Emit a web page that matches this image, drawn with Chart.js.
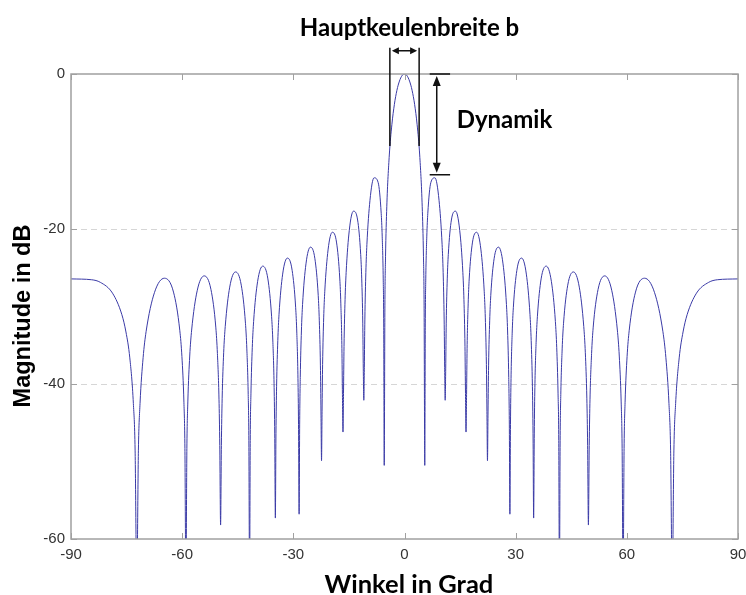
<!DOCTYPE html>
<html>
<head>
<meta charset="utf-8">
<title>Richtcharakteristik</title>
<script src="https://cdn.jsdelivr.net/npm/chart.js@4.4.1/dist/chart.umd.min.js"></script>
<style>
  body { margin: 0; background: #fff; }
  canvas { display: block; }
</style>
</head>
<body>
<canvas id="pattern" width="746" height="595"></canvas>
<script>
'use strict';

// array pattern: angle in degrees and magnitude in dB, one line per lobe
let angles = [
  -90, -84.41, -82.09, -78.80, -76.27, -75.17, -74.13, -73.17, -72.70,
  -72.25, -71.81, -71.37, -70.54, -69.74, -67.49, -64.79, -62.34, -60.63, -60.07, -59.53, -59.26,
  -58.99, -58.73, -58.47, -57.96, -57.44, -55.95, -54.05, -52.23, -50.91, -50.49, -50.06, -49.85,
  -49.63, -49.42, -49.21, -48.80, -48.38, -47.17, -45.59, -44.05, -42.92, -42.55, -42.18, -42.00,
  -41.81, -41.63, -41.44, -41.08, -40.72, -39.65, -38.25, -36.87, -35.86, -35.52, -35.18, -35.02,
  -34.85, -34.69, -34.52, -34.19, -33.86, -32.88, -31.59, -30.32, -29.37, -29.06, -28.75, -28.60,
  -28.44, -28.29, -28.13, -27.82, -27.51, -26.59, -25.38, -24.18, -23.28, -22.99, -22.69, -22.54,
  -22.39, -22.25, -22.10, -21.81, -21.51, -20.63, -19.47, -18.32, -17.46, -17.18, -16.89, -16.75,
  -16.60, -16.46, -16.32, -16.04, -15.75, -14.90, -13.78, -12.65, -11.82, -11.54, -11.26, -11.12,
  -10.98, -10.84, -10.70, -10.43, -10.15, -9.32, -8.21, -7.11, -6.29, -6.02, -5.74, -5.61,
  -5.47, -5.29, -5.12, -4.78, -4.10, -3.41, -2.73, -2.05, -1.36, -0.68, 0, 0.68, 1.36, 2.05, 2.73, 3.41, 4.10, 4.78, 5.12, 5.29,
  5.47, 5.61, 5.74, 6.02, 6.29, 7.11, 8.21, 9.32, 10.15, 10.43, 10.70, 10.84,
  10.98, 11.12, 11.26, 11.54, 11.82, 12.65, 13.78, 14.90, 15.75, 16.04, 16.32, 16.46,
  16.60, 16.75, 16.89, 17.18, 17.46, 18.32, 19.47, 20.63, 21.51, 21.81, 22.10, 22.25,
  22.39, 22.54, 22.69, 22.99, 23.28, 24.18, 25.38, 26.59, 27.51, 27.82, 28.13, 28.29,
  28.44, 28.60, 28.75, 29.06, 29.37, 30.32, 31.59, 32.88, 33.86, 34.19, 34.52, 34.69,
  34.85, 35.02, 35.18, 35.52, 35.86, 36.87, 38.25, 39.65, 40.72, 41.08, 41.44, 41.63,
  41.81, 42.00, 42.18, 42.55, 42.92, 44.05, 45.59, 47.17, 48.38, 48.80, 49.21, 49.42,
  49.63, 49.85, 50.06, 50.49, 50.91, 52.23, 54.05, 55.95, 57.44, 57.96, 58.47, 58.73,
  58.99, 59.26, 59.53, 60.07, 60.63, 62.34, 64.79, 67.49, 69.74, 70.54, 71.37, 71.81,
  72.25, 72.70, 73.17, 74.13, 75.17, 76.27, 78.80, 82.09, 84.41, 90
];

let magnitudes = [
  -26.44, -26.55, -26.88, -28.28, -31.06, -33.29, -36.63, -42.53, -48.53,
  -66, -48.54, -42.53, -36.61, -33.26, -28.22, -26.35, -28.14, -33.13, -36.45, -42.35, -48.34,
  -66, -48.33, -42.32, -36.39, -33.04, -27.97, -26.05, -27.81, -32.76, -36.07, -41.96, -47.94,
  -58.2, -47.92, -41.91, -35.97, -32.60, -27.50, -25.54, -27.25, -32.16, -35.47, -41.34, -47.32,
  -66, -47.29, -41.27, -35.32, -31.94, -26.80, -24.79, -26.44, -31.32, -34.61, -40.47, -46.44,
  -57.3, -46.39, -40.36, -34.40, -31.01, -25.82, -23.75, -25.34, -30.16, -33.44, -39.28, -45.25,
  -56.8, -45.17, -39.14, -33.16, -29.74, -24.50, -22.34, -23.84, -28.60, -31.85, -37.66, -43.61,
  -49.9, -43.52, -37.47, -31.47, -28.03, -22.70, -20.42, -21.80, -26.45, -29.66, -35.44, -41.37,
  -46.2, -41.24, -35.17, -29.12, -25.63, -20.17, -17.70, -18.84, -23.30, -26.44, -32.15, -38.05,
  -42.1, -37.84, -31.73, -25.60, -22.03, -16.30, -13.39, -14.00, -17.97, -20.92, -26.44, -32.25,
  -50.5, -29.84, -23.58, -17.13, -10.45, -6.55, -3.92, -2.11, -0.91, -0.22, 0, -0.22, -0.91, -2.11, -3.92, -6.55, -10.45, -17.13, -23.58, -29.84,
  -50.5, -32.25, -26.44, -20.92, -17.97, -14.00, -13.39, -16.30, -22.03, -25.60, -31.73, -37.84,
  -42.1, -38.05, -32.15, -26.44, -23.30, -18.84, -17.70, -20.17, -25.63, -29.12, -35.17, -41.24,
  -46.2, -41.37, -35.44, -29.66, -26.45, -21.80, -20.42, -22.70, -28.03, -31.47, -37.47, -43.52,
  -49.9, -43.61, -37.66, -31.85, -28.60, -23.84, -22.34, -24.50, -29.74, -33.16, -39.14, -45.17,
  -56.8, -45.25, -39.28, -33.44, -30.16, -25.34, -23.75, -25.82, -31.01, -34.40, -40.36, -46.39,
  -57.3, -46.44, -40.47, -34.61, -31.32, -26.44, -24.79, -26.80, -31.94, -35.32, -41.27, -47.29,
  -66, -47.32, -41.34, -35.47, -32.16, -27.25, -25.54, -27.50, -32.60, -35.97, -41.91, -47.92,
  -58.2, -47.94, -41.96, -36.07, -32.76, -27.81, -26.05, -27.97, -33.04, -36.39, -42.32, -48.33,
  -66, -48.34, -42.35, -36.45, -33.13, -28.14, -26.35, -28.22, -33.26, -36.61, -42.53, -48.54,
  -66, -48.53, -42.53, -36.63, -33.29, -31.06, -28.28, -26.88, -26.55, -26.44
];

let xTicks = [-90, -60, -30, 0, 30, 60, 90];
let yTicks = [0, -20, -40, -60];

// marker positions for the beam width and dynamic range annotations
let beamEdge = 3.95;        // deg
let beamLevel = -9.3;       // dB, where the b markers end
let markerTop = 3.4;        // dB, top of the b markers (above the plot)
let arrowLevel = 3.0;       // dB, double arrow between the b markers
let dynAngle = 8.7;         // deg, vertical Dynamik arrow
let sidelobeLevel = -13.0;  // dB, first sidelobe

let points = [];
for (let i = 0; i < angles.length; i++) {
  points.push({x: angles[i], y: magnitudes[i]});
}

let frameColor = '#a0a0a0';

function arrowHead(ctx, x, y, dx, dy, len, half) {
  // dx/dy is the unit direction the head points to
  ctx.beginPath();
  ctx.moveTo(x, y);
  ctx.lineTo(x - dx * len - dy * half, y - dy * len + dx * half);
  ctx.lineTo(x - dx * len + dy * half, y - dy * len - dx * half);
  ctx.closePath();
  ctx.fill();
}

let gridPlugin = {
  id: 'dashedGrid',
  beforeDatasetsDraw(chart) {
    let ctx = chart.ctx;
    let area = chart.chartArea;
    let y = chart.scales.y;
    ctx.save();
    ctx.strokeStyle = '#d6d6d6';
    ctx.lineWidth = 1;
    ctx.setLineDash([6, 4]);
    yTicks.forEach(function(v) {
      if (v === 0 || v === -60) return;
      let py = Math.round(y.getPixelForValue(v)) + 0.5;
      ctx.beginPath();
      ctx.moveTo(area.left, py);
      ctx.lineTo(area.right, py);
      ctx.stroke();
    });
    ctx.restore();
  }
};

let framePlugin = {
  id: 'frameAndNotes',
  afterDatasetsDraw(chart) {
    let ctx = chart.ctx;
    let area = chart.chartArea;
    let x = chart.scales.x;
    let y = chart.scales.y;
    ctx.save();

    // box round the plot with inward ticks
    ctx.strokeStyle = frameColor;
    ctx.lineWidth = 1.5;
    ctx.strokeRect(area.left, area.top, area.right - area.left, area.bottom - area.top);
    ctx.lineWidth = 1;
    ctx.beginPath();
    xTicks.forEach(function(v) {
      let px = Math.round(x.getPixelForValue(v)) + 0.5;
      ctx.moveTo(px, area.bottom);
      ctx.lineTo(px, area.bottom - 6);
      ctx.moveTo(px, area.top);
      ctx.lineTo(px, area.top + 6);
    });
    yTicks.forEach(function(v) {
      let py = Math.round(y.getPixelForValue(v)) + 0.5;
      ctx.moveTo(area.left, py);
      ctx.lineTo(area.left + 6, py);
      ctx.moveTo(area.right, py);
      ctx.lineTo(area.right - 6, py);
    });
    ctx.stroke();

    // main lobe width b
    ctx.strokeStyle = '#111';
    ctx.fillStyle = '#111';
    ctx.lineWidth = 1.5;
    let bl = x.getPixelForValue(-beamEdge);
    let br = x.getPixelForValue(beamEdge);
    let bTop = y.getPixelForValue(markerTop);
    let bBottom = y.getPixelForValue(beamLevel);
    ctx.beginPath();
    ctx.moveTo(bl, bTop);
    ctx.lineTo(bl, bBottom);
    ctx.moveTo(br, bTop);
    ctx.lineTo(br, bBottom);
    let ay = y.getPixelForValue(arrowLevel);
    ctx.moveTo(bl + 4, ay);
    ctx.lineTo(br - 4, ay);
    ctx.stroke();
    arrowHead(ctx, bl + 2, ay, -1, 0, 7, 3.5);
    arrowHead(ctx, br - 2, ay, 1, 0, 7, 3.5);

    // dynamic range between main lobe and first sidelobe
    let dx = x.getPixelForValue(dynAngle);
    let dTop = y.getPixelForValue(0);
    let dBottom = y.getPixelForValue(sidelobeLevel);
    ctx.beginPath();
    ctx.moveTo(dx, dTop + 8);
    ctx.lineTo(dx, dBottom - 8);
    ctx.moveTo(x.getPixelForValue(6.8), dTop);
    ctx.lineTo(x.getPixelForValue(12.3), dTop);
    ctx.moveTo(x.getPixelForValue(6.8), dBottom);
    ctx.lineTo(x.getPixelForValue(12.3), dBottom);
    ctx.stroke();
    arrowHead(ctx, dx, dTop + 2, 0, -1, 10, 4);
    arrowHead(ctx, dx, dBottom - 2, 0, 1, 10, 4);

    // labels
    ctx.fillStyle = '#000';
    ctx.textBaseline = 'alphabetic';
    ctx.font = 'bold 24px Lato';
    ctx.textAlign = 'center';
    ctx.fillText('Hauptkeulenbreite b', x.getPixelForValue(1.35), area.top - 38);
    ctx.textAlign = 'left';
    ctx.fillText('Dynamik', x.getPixelForValue(14.1), y.getPixelForValue(-7.0));

    // axis titles
    ctx.textAlign = 'center';
    ctx.font = 'bold 25.5px Lato';
    ctx.fillText('Winkel in Grad', x.getPixelForValue(1.2), 593);
    ctx.translate(30, 316);
    ctx.rotate(-Math.PI / 2);
    ctx.font = 'bold 23.5px "Liberation Sans"';
    ctx.fillText('Magnitude in dB', 0, 0);

    ctx.restore();
  }
};

let ctx = document.getElementById('pattern').getContext('2d');

let chart = new Chart(ctx, {
  type: 'line',
  data: {
    datasets: [
      {
        label: 'Magnitude',
        data: points,
        borderColor: '#3a3aa6',
        borderWidth: 1,
        pointRadius: 0,
        cubicInterpolationMode: 'monotone',
        fill: false
      }
    ]
  },
  options: {
    responsive: false,
    animation: false,
    events: [],
    layout: {
      padding: {top: 74, right: 8, left: 0, bottom: 0}
    },
    plugins: {
      legend: {display: false},
      tooltip: {enabled: false}
    },
    scales: {
      x: {
        type: 'linear',
        min: -90,
        max: 90,
        grid: {display: false, drawTicks: false},
        border: {display: false},
        afterBuildTicks: function(scale) {
          scale.ticks = xTicks.map(function(v) { return {value: v}; });
        },
        afterFit: function(scale) {
          scale.height = 56;
          scale.paddingLeft = 0;
          scale.paddingRight = 0;
        },
        ticks: {
          padding: 7,
          color: '#333',
          font: {family: '"Liberation Sans"', size: 15},
          maxRotation: 0,
          autoSkip: false
        }
      },
      y: {
        type: 'linear',
        min: -60,
        max: 0,
        grid: {display: false, drawTicks: false},
        border: {display: false},
        afterBuildTicks: function(scale) {
          scale.ticks = yTicks.map(function(v) { return {value: v}; });
        },
        afterFit: function(scale) {
          scale.width = 71;
          scale.paddingTop = 0;
          scale.paddingBottom = 0;
        },
        ticks: {
          padding: 6,
          color: '#333',
          font: {family: '"Liberation Sans"', size: 15},
          autoSkip: false
        }
      }
    }
  },
  plugins: [gridPlugin, framePlugin]
});
</script>
</body>
</html>
